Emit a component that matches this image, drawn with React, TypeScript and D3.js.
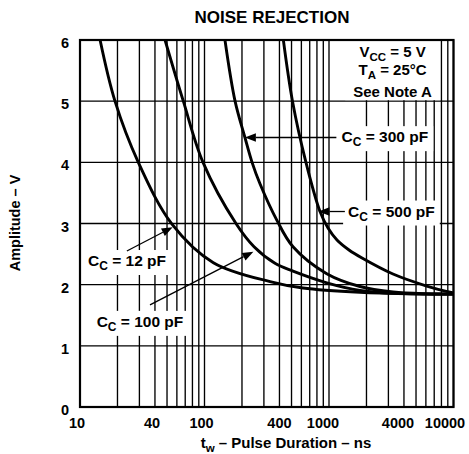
import React, { useEffect, useRef } from 'react';
import * as d3 from 'd3';

const W = 469;
const H = 454;

const titleText = 'NOISE REJECTION';
const yAxisTitle = 'Amplitude – V';
const xTickValues = [10, 40, 100, 400, 1000, 4000, 10000];
const yTickValues = [0, 1, 2, 3, 4, 5, 6];
const gridDecades = [10, 100, 1000];
const gridMultipliers = [1, 2, 3, 4, 5, 6, 7, 8, 9];
const hGridValues = [1, 2, 3, 4, 5];

// Curves: pulse duration (ns) vs amplitude (V)
const ns12 = [14.5, 19.1, 29.4, 54.8, 117.8, 336, 618, 1774, 5380, 10000];
const v12 = [6, 5, 4, 2.99, 2.36, 2.05, 1.945, 1.875, 1.85, 1.845];

const ns100 = [48.2, 67.6, 97.3, 179, 250, 368, 514, 959, 1774, 3266, 10000];
const v100 = [6, 5, 4, 3, 2.62, 2.35, 2.22, 2.03, 1.905, 1.86, 1.847];

const ns300 = [146, 176, 211, 241, 279, 380, 514, 959, 1774, 3266, 6097, 10000];
const v300 = [6, 5, 4.41, 4, 3.65, 3.06, 2.62, 2.18, 1.97, 1.88, 1.85, 1.845];

const ns500 = [430, 509, 653, 847, 982, 1159, 1448, 1842, 3266, 6097, 10000];
const v500 = [6, 5, 4, 3.196, 2.926, 2.73, 2.567, 2.436, 2.174, 1.978, 1.864];

const curveNs = [ns12, ns100, ns300, ns500];
const curveV = [v12, v100, v300, v500];

// Annotations (data coordinates)
const annNames = ['12 pF', '100 pF', '300 pF', '500 pF'];
const annTipNs = [55.5, 247, 211, 823];
const annTipV = [2.94, 2.54, 4.406, 3.196];
const annTailNs = [23.8, 36.5, 1146, 1341];
const annTailV = [2.55, 1.67, 4.406, 3.196];
const annTextNs = [11.6, 13.6, 1262, 1424];
const annTextV = [2.305, 1.31, 4.33, 3.114];

const condCenterNs = 3240;
const condLineV = [5.73, 5.42, 5.07];

const FONT = "'Liberation Sans', Arial, Helvetica, sans-serif";

export default function App() {
  const ref = useRef<SVGSVGElement>(null);

  useEffect(() => {
    const svg = d3.select(ref.current);
    svg.selectAll('*').remove();

    const left = 80, right = 453.5, top = 40, bottom = 407;
    const x = d3.scaleLog().domain([10, 10000]).range([left, right]);
    const y = d3.scaleLinear().domain([0, 6]).range([bottom, top]);

    svg.append('rect').attr('width', W).attr('height', H).attr('fill', '#fff');

    svg.append('defs').append('clipPath').attr('id', 'plotclip')
      .append('rect').attr('x', left).attr('y', top).attr('width', right - left).attr('height', bottom - top);

    // grid
    const grid = svg.append('g').attr('stroke', '#000').attr('stroke-width', 1.35);
    const vVals: number[] = [];
    gridDecades.forEach(d => gridMultipliers.forEach(m => vVals.push(d * m)));
    vVals.push(10000);
    grid.selectAll('line.v').data(vVals).enter().append('line')
      .attr('x1', d => x(d)).attr('x2', d => x(d)).attr('y1', top).attr('y2', bottom);
    grid.selectAll('line.h').data(hGridValues).enter().append('line')
      .attr('x1', left).attr('x2', right).attr('y1', d => y(d)).attr('y2', d => y(d));

    const textStyle = (sel: any, size: number) =>
      sel.attr('font-family', FONT).attr('font-weight', 'bold').attr('font-size', size).attr('fill', '#000');

    const labelLayer = svg.append('g');
    const boxLayer = labelLayer.append('g');
    const textLayer = labelLayer.append('g');

    const addCLabel = (px: number, py: number, value: string) => {
      const t = textStyle(textLayer.append('text'), 15.5).attr('x', px).attr('y', py);
      t.append('tspan').text('C');
      t.append('tspan').attr('font-size', 12).attr('dy', 4).text('C');
      t.append('tspan').attr('dy', -4).text(' = ' + value);
      return t;
    };

    const boxFor = (node: SVGGraphicsElement, padX: number, padY: number) => {
      const b = node.getBBox();
      boxLayer.append('rect').attr('x', b.x - padX).attr('y', b.y - padY)
        .attr('width', b.width + 2 * padX).attr('height', b.height + 2 * padY).attr('fill', '#fff');
    };

    // conditions box
    const cond = textLayer.append('g');
    const cx = x(condCenterNs);
    const l1 = textStyle(cond.append('text'), 15).attr('x', cx).attr('y', y(condLineV[0])).attr('text-anchor', 'middle');
    l1.append('tspan').text('V');
    l1.append('tspan').attr('font-size', 11.5).attr('dy', 4).text('CC');
    l1.append('tspan').attr('dy', -4).text(' = 5 V');
    const l2 = textStyle(cond.append('text'), 15).attr('x', cx).attr('y', y(condLineV[1])).attr('text-anchor', 'middle');
    l2.append('tspan').text('T');
    l2.append('tspan').attr('font-size', 11.5).attr('dy', 4).text('A');
    l2.append('tspan').attr('dy', -4).text(' = 25°C');
    textStyle(cond.append('text'), 15).attr('x', cx).attr('y', y(condLineV[2])).attr('text-anchor', 'middle').text('See Note A');
    {
      const b = (cond.node() as SVGGElement).getBBox();
      boxLayer.append('rect').attr('x', b.x - 8).attr('y', top + 1)
        .attr('width', b.width + 16).attr('height', y(5) - 1 - top - 1).attr('fill', '#fff');
    }

    annNames.forEach((name, i) => {
      const t = addCLabel(x(annTextNs[i]), y(annTextV[i]), name);
      boxFor(t.node() as SVGGraphicsElement, 5, 2);
    });

    // curves
    const line = d3.line<[number, number]>()
      .x(d => x(d[0])).y(d => y(d[1]))
      .curve(d3.curveCatmullRom.alpha(0.5));
    const curves = svg.append('g').attr('clip-path', 'url(#plotclip)');
    curveNs.forEach((ns, i) => {
      const pts = ns.map((n, j) => [n, curveV[i][j]] as [number, number]);
      curves.append('path').attr('d', line(pts)).attr('fill', 'none')
        .attr('stroke', '#000').attr('stroke-width', 2.9).attr('stroke-linejoin', 'round');
    });

    // arrows
    const arrows = svg.append('g');
    annNames.forEach((_, i) => {
      const tx = x(annTipNs[i]), ty = y(annTipV[i]);
      const sx = x(annTailNs[i]), sy = y(annTailV[i]);
      const dx = tx - sx, dy = ty - sy;
      const len = Math.hypot(dx, dy);
      const ux = dx / len, uy = dy / len;
      const hl = 11, hw = 4.2;
      const bx = tx - ux * hl, by = ty - uy * hl;
      arrows.append('line').attr('x1', sx).attr('y1', sy).attr('x2', bx).attr('y2', by)
        .attr('stroke', '#000').attr('stroke-width', 1.3);
      arrows.append('polygon')
        .attr('points', [[tx, ty], [bx - uy * hw, by + ux * hw], [bx + uy * hw, by - ux * hw]].map(p => p.join(',')).join(' '))
        .attr('fill', '#000');
    });

    // frame
    svg.append('rect').attr('x', left).attr('y', top).attr('width', right - left).attr('height', bottom - top)
      .attr('fill', 'none').attr('stroke', '#000').attr('stroke-width', 2.2);

    // tick labels
    const tl = svg.append('g');
    yTickValues.forEach(v => {
      textStyle(tl.append('text'), 14.5).attr('x', 69).attr('y', y(v) + 8).attr('text-anchor', 'end').text(String(v));
    });
    xTickValues.forEach(v => {
      const nudge = v >= 10000 ? -8.5 : v >= 1000 ? -6 : v === 400 ? 0 : -3;
      textStyle(tl.append('text'), 14.5).attr('x', x(v)).attr('dx', nudge).attr('y', 428).attr('text-anchor', 'middle').text(String(v));
    });

    // title
    textStyle(svg.append('text'), 17).attr('x', 272).attr('y', 22.5).attr('text-anchor', 'middle').text(titleText);

    // x axis title
    const xt = textStyle(svg.append('text'), 15).attr('x', 286).attr('y', 448).attr('text-anchor', 'middle');
    xt.append('tspan').text('t');
    xt.append('tspan').attr('font-size', 11.5).attr('dy', 4).text('w');
    xt.append('tspan').attr('dy', -4).text(' – Pulse Duration – ns');

    // y axis title
    textStyle(svg.append('text'), 14.5)
      .attr('transform', `translate(20,${223}) rotate(-90)`)
      .attr('text-anchor', 'middle').text(yAxisTitle);
  }, []);

  return (
    <svg ref={ref} width={W} height={H} style={{ position: 'absolute', left: 0, top: 0, display: 'block' }} />
  );
}
